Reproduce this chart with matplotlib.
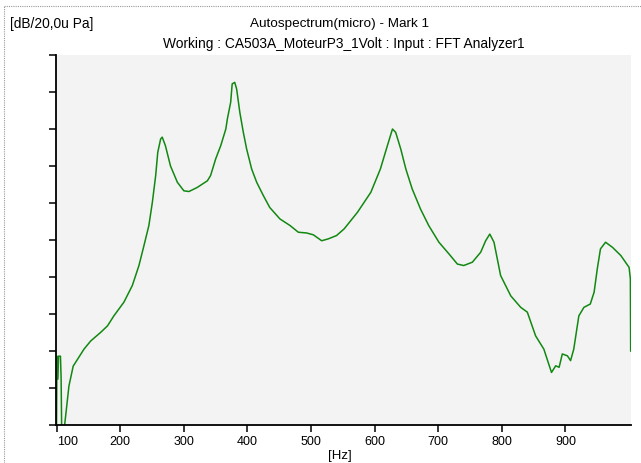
import matplotlib
matplotlib.use("Agg")
import matplotlib.pyplot as plt
from matplotlib.lines import Line2D

# ---- data (relative level, arbitrary dB units: 0..10 spans the axis) ----
freq_hz = [99.5, 100.5, 102, 103, 104, 106, 107, 108.5, 112.6, 119.3, 126, 143, 153.5,
           169, 180, 190, 205.8, 219, 229.4, 237.3, 245, 250.5, 255.7, 259, 263.5, 266,
           271, 279, 289.8, 300, 308, 321, 337, 342, 350, 358, 366, 368.4, 373.6, 376,
           380, 383, 388, 393.5, 398.7, 406.6, 414.5, 425, 435, 451, 467, 480, 493,
           503.6, 516.7, 527, 540, 552, 573, 594, 609, 620, 628, 633, 641, 649, 659,
           672, 685, 701, 717, 730, 740, 753.6, 766.7, 774.5, 781, 787.6, 798,
           814, 829.6, 840, 853, 866, 878, 884.6, 890, 895, 903, 908, 913, 921,
           929, 939, 945, 950, 955, 963, 974, 987, 1000, 1002, 1002.5]
level = [-1.0, 1.86, 1.24, 1.86, 1.86, 1.86, 1.3, -1.0, 0.0, 1.05, 1.59, 2.05, 2.27,
         2.50, 2.68, 2.95, 3.32, 3.77, 4.31, 4.85, 5.39, 6.02, 6.74, 7.37, 7.73, 7.78,
         7.55, 7.00, 6.56, 6.33, 6.31, 6.42, 6.60, 6.74, 7.19, 7.55, 8.00, 8.27, 8.72, 9.22,
         9.26, 9.08, 8.45, 7.91, 7.46, 6.92, 6.56, 6.20, 5.88, 5.57, 5.39, 5.21, 5.19,
         5.14, 4.98, 5.03, 5.12, 5.30, 5.75, 6.29, 6.92, 7.55, 8.00, 7.91, 7.46, 6.92, 6.38,
         5.84, 5.39, 4.94, 4.62, 4.35, 4.31, 4.40, 4.67, 4.98, 5.16, 4.94, 4.04,
         3.49, 3.18, 3.05, 2.41, 2.05, 1.42, 1.60, 1.56, 1.92, 1.87, 1.74, 2.05, 2.95,
         3.18, 3.27, 3.59, 4.22, 4.76, 4.94, 4.80, 4.58, 4.26, 3.95, 2.00]
x_ticks = [100, 200, 300, 400, 500, 600, 700, 800, 900]
x_tick_labels = ["100", "200", "300", "400", "500", "600", "700", "800", "900"]
y_ticks = [0, 1, 2, 3, 4, 5, 6, 7, 8, 9, 10]

title_1 = "Autospectrum(micro) - Mark 1"
title_2 = "Working : CA503A_MoteurP3_1Volt : Input : FFT Analyzer1"
y_unit = "[dB/20,0u Pa]"
x_unit = "[Hz]"

plt.rcParams["font.family"] = ["Liberation Sans", "DejaVu Sans"]

W, H = 641, 464
fig = plt.figure(figsize=(W / 100, H / 100), dpi=100)
fig.patch.set_facecolor("white")

L, R, T, B = 56, 631, 56, 426
ax = fig.add_axes([L / W, 1 - B / H, (R - L) / W, (B - T) / H])
ax.set_facecolor("#f3f3f3")

ax.plot(freq_hz, level, color="#118811", lw=1.1, clip_on=True)

ax.set_xlim(99, 1003)
ax.set_ylim(0, 10)
ax.set_xticks(x_ticks)
ax.set_xticklabels(x_tick_labels)
ax.set_yticks(y_ticks)
ax.set_yticklabels([])
ax.get_xticklabels()[0].set_horizontalalignment("left")

for s in ("top", "right"):
    ax.spines[s].set_visible(False)
for s in ("left", "bottom"):
    ax.spines[s].set_color("black")
    ax.spines[s].set_linewidth(1.3)
ax.tick_params(axis="both", direction="out", length=5, width=1.1, color="black",
               labelsize=9, pad=2)

# texts
fig.text(340 / W, 1 - 24 / H, title_1, ha="center", va="center", fontsize=9.7)
fig.text(344 / W, 1 - 44 / H, title_2, ha="center", va="center", fontsize=9.9)
fig.text(10 / W, 1 - 24 / H, y_unit, ha="left", va="center", fontsize=9.9)
fig.text(340 / W, 1 - 456 / H, x_unit, ha="center", va="center", fontsize=9.5)

# dotted frame
fig.add_artist(Line2D([4 / W, 1.0], [1 - 7 / H, 1 - 7 / H], transform=fig.transFigure,
                      color="#999999", lw=0.8, ls=(0, (1, 1))))
fig.add_artist(Line2D([4 / W, 4 / W], [0, 1 - 7 / H], transform=fig.transFigure,
                      color="#999999", lw=0.8, ls=(0, (1, 1))))

fig.savefig("out.png", dpi=100)
